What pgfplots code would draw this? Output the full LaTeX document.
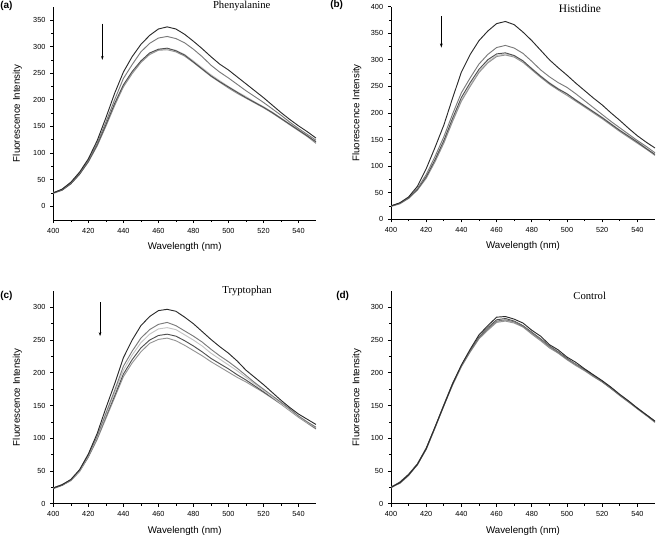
\documentclass[border=0pt]{standalone}
\usepackage{fontspec}
\setmainfont{Liberation Serif}
\setsansfont{Liberation Sans}
\usepackage{pgfplots}
\usepackage{pgfplotstable}
\pgfplotsset{compat=1.18}
\usetikzlibrary{arrows.meta}

\pgfplotstableread{
x    a1   a2   a3   a4   a5
400  25   25   25   26   24
405  32   31   30   31   30
410  45   44   42   43   42
415  64   62   60   61   60
420  89   86   84   85   83
425  123  118  115  114  113
430  166  158  153  151  150
435  212  200  193  190  189
440  252  240  228  226  224
445  281  266  253  250  249
450  304  290  273  271  270
455  321  306  288  287  285
460  333  316  295  294  293
465  337  319  297  296  294
470  333  315  292  293  290
475  323  307  284  285  282
480  310  295  271  273  270
485  296  281  258  260  257
490  281  265  245  247  244
495  267  252  234  236  233
500  256  241  224  225  222
505  243  229  214  215  212
510  230  217  204  206  203
515  217  206  195  196  194
520  204  195  186  187  185
525  190  183  176  177  175
530  176  171  165  166  164
535  163  158  154  155  153
540  151  146  143  144  142
545  140  135  132  133  131
550  128  124  121  119  118
}\tabA

\pgfplotstableread{
x    b1   b2   b3   b4   b5
400  25   25   25   25   24
405  31   30   30   29   29
410  42   41   40   40   39
415  62   58   56   55   55
420  95   84   80   78   77
425  135  118  112  109  108
430  177  155  148  144  143
435  228  198  190  185  184
440  277  238  229  224  222
445  310  266  257  252  250
450  336  292  282  278  276
455  354  310  300  296  294
460  368  323  311  308  306
465  372  327  313  311  309
470  366  322  308  307  305
475  352  312  298  297  295
480  336  297  283  284  281
485  318  281  269  270  267
490  300  268  256  257  254
495  285  257  245  246  243
500  271  248  236  236  233
505  256  236  224  225  222
510  242  223  213  214  211
515  228  210  202  203  200
520  215  197  191  192  189
525  200  184  179  180  177
530  186  172  167  168  165
535  171  160  156  157  154
540  157  148  145  146  143
545  145  137  133  134  132
550  134  125  122  121  120
}\tabB

\pgfplotstableread{
x    c1   c2   c3   c4   c5
400  24   24   24   23   24
405  29   29   29   28   28
410  37   36   36   36   35
415  52   51   50   50   49
420  76   74   73   72   71
425  107  103  101  100  98
430  146  138  135  133  130
435  183  173  169  165  162
440  223  210  204  198  194
445  250  233  227  220  215
450  272  253  246  238  232
455  286  266  259  250  245
460  295  274  267  257  251
465  297  277  269  259  253
470  294  272  266  256  249
475  285  264  258  249  242
480  275  256  250  241  234
485  263  247  241  232  226
490  251  236  230  222  217
495  240  226  221  214  209
500  230  217  212  206  201
505  218  207  203  197  193
510  204  196  193  189  186
515  193  185  183  180  178
520  182  175  173  171  170
525  170  165  163  162  161
530  158  155  153  153  152
535  147  145  143  143  142
540  137  134  133  133  132
545  129  125  124  124  123
550  121  117  116  115  114
}\tabC

\pgfplotstableread{
x    d1   d2   d3   d4   d5
400  25   26   25   24   25
405  32   31   33   32   31
410  44   43   45   44   43
415  60   60   61   59   60
420  84   83   85   84   83
425  117  116  117  116  115
430  150  150  151  149  150
435  183  182  184  182  181
440  212  210  211  210  209
445  236  233  234  232  232
450  258  253  255  252  252
455  272  267  269  265  266
460  285  279  281  277  278
465  286  281  283  279  280
470  282  278  279  276  277
475  276  271  272  270  270
480  265  261  262  259  260
485  256  251  252  249  250
490  243  240  241  238  239
495  235  231  232  230  230
500  224  221  222  220  220
505  216  213  213  211  212
510  206  204  205  203  204
515  197  195  196  194  195
520  188  186  187  186  186
525  178  176  177  176  176
530  167  166  166  165  166
535  157  156  156  155  156
540  146  145  146  145  145
545  136  135  136  135  135
550  126  125  126  124  125
}\tabD

\definecolor{k1}{HTML}{2A2A2A}
\definecolor{k2}{HTML}{7A7A7A}
\definecolor{k3}{HTML}{505050}
\definecolor{k4}{HTML}{C4C4C4}
\definecolor{k5}{HTML}{959595}

\pgfplotsset{
  spec/.style={
    scale only axis,
    axis lines=left,
    axis line style={-, line width=0.6pt, black},
    tick align=outside,
    major tick length=2.4pt,
    minor tick length=1.4pt,
    tick style={line width=0.5pt, black},
    xmin=400, xmax=550,
    xtick={400,420,...,540},
    minor x tick num=1,
    minor y tick num=1,
    tick label style={font=\sffamily\fontsize{5.5}{6}\selectfont},
    /pgf/number format/assume math mode=true,
    label style={font=\sffamily\fontsize{7.3}{8}\selectfont},
    xlabel={Wavelength (nm)},
    ylabel={Fluorescence Intensity},
    xlabel style={at={(axis description cs:0.5,-0.127)}, anchor=center},
    every axis plot/.append style={line width=0.7pt, no marks},
  },
}

\begin{document}
\begin{tikzpicture}
\useasboundingbox (0,0) rectangle (492.75pt,401.25pt);

% (a)
\begin{axis}[spec, at={(40pt,236.25pt)}, anchor=south west, width=197pt, height=160pt,
  ymin=-26, ymax=375, ytick={0,50,...,350},
  ylabel style={at={(axis description cs:-0.137,0.5)}, anchor=center}]
\addplot[k4] table[x=x,y=a4]{\tabA};
\addplot[k5] table[x=x,y=a5]{\tabA};
\addplot[k3] table[x=x,y=a3]{\tabA};
\addplot[k2] table[x=x,y=a2]{\tabA};
\addplot[k1] table[x=x,y=a1]{\tabA};
\draw[-{Stealth[length=3pt,width=2pt]}, line width=0.5pt] (axis cs:428,343) -- (axis cs:428,275);
\end{axis}

% (b)
\begin{axis}[spec, at={(293.25pt,236.8pt)}, anchor=south west, width=198pt, height=159.5pt,
  ymin=0, ymax=400, ytick={0,50,...,400},
  ylabel style={at={(axis description cs:-0.129,0.5)}, anchor=center}]
\addplot[k4] table[x=x,y=b4]{\tabB};
\addplot[k5] table[x=x,y=b5]{\tabB};
\addplot[k3] table[x=x,y=b3]{\tabB};
\addplot[k2] table[x=x,y=b2]{\tabB};
\addplot[k1] table[x=x,y=b1]{\tabB};
\draw[-{Stealth[length=3pt,width=2pt]}, line width=0.5pt] (axis cs:428.6,382) -- (axis cs:428.6,323);
\end{axis}

% (c)
\begin{axis}[spec, at={(40pt,23.5pt)}, anchor=south west, width=197pt, height=159.5pt,
  ymin=0, ymax=325, ytick={0,50,...,300},
  ylabel style={at={(axis description cs:-0.137,0.5)}, anchor=center}]
\addplot[k5] table[x=x,y=c5]{\tabC};
\addplot[k3] table[x=x,y=c4]{\tabC};
\addplot[k4] table[x=x,y=c3]{\tabC};
\addplot[k2] table[x=x,y=c2]{\tabC};
\addplot[k1] table[x=x,y=c1]{\tabC};
\draw[-{Stealth[length=3pt,width=2pt]}, line width=0.5pt] (axis cs:426.7,308) -- (axis cs:426.7,256);
\end{axis}

% (d)
\begin{axis}[spec, at={(293.25pt,23.5pt)}, anchor=south west, width=198pt, height=159.5pt,
  ymin=0, ymax=325, ytick={0,50,...,300},
  ylabel style={at={(axis description cs:-0.129,0.5)}, anchor=center}]
\addplot[k4] table[x=x,y=d5]{\tabD};
\addplot[k5] table[x=x,y=d4]{\tabD};
\addplot[k3] table[x=x,y=d3]{\tabD};
\addplot[k2] table[x=x,y=d2]{\tabD};
\addplot[k1] table[x=x,y=d1]{\tabD};
\end{axis}

% titles and panel letters
\node[font=\fontsize{8}{9}\selectfont] at (181.3pt,396.8pt) {Phenyalanine};
\node[font=\fontsize{8.6}{9}\selectfont] at (435pt,394.8pt) {Histidine};
\node[font=\fontsize{8}{9}\selectfont] at (185.3pt,183pt) {Tryptophan};
\node[font=\fontsize{8}{9}\selectfont] at (442.3pt,179.5pt) {Control};
\node[font=\sffamily\bfseries\fontsize{7.5}{8}\selectfont, anchor=west, inner sep=0pt] at (0pt,397pt) {(a)};
\node[font=\sffamily\bfseries\fontsize{7.5}{8}\selectfont, anchor=west, inner sep=0pt] at (247.5pt,397.5pt) {(b)};
\node[font=\sffamily\bfseries\fontsize{7.5}{8}\selectfont, anchor=west, inner sep=0pt] at (0pt,179.4pt) {(c)};
\node[font=\sffamily\bfseries\fontsize{7.5}{8}\selectfont, anchor=west, inner sep=0pt] at (252pt,179.4pt) {(d)};
\end{tikzpicture}
\end{document}
